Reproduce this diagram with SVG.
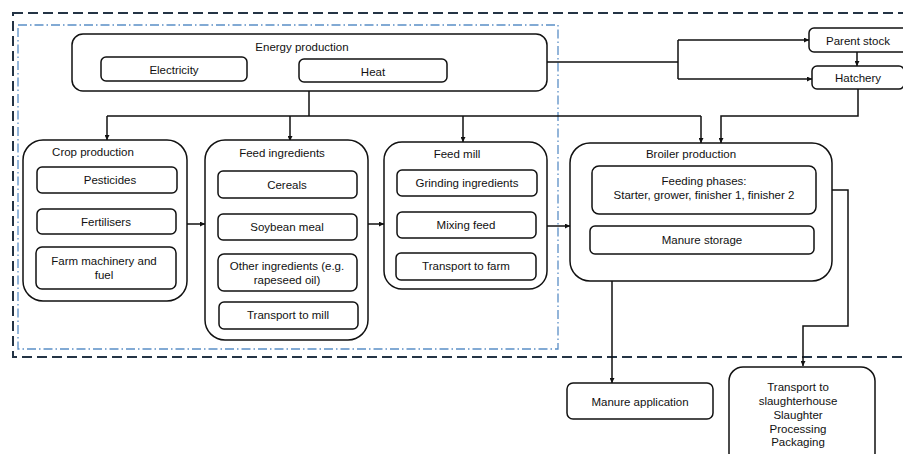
<svg xmlns="http://www.w3.org/2000/svg" width="903" height="454" viewBox="0 0 903 454">
<defs>
<marker id="ah" viewBox="0 0 10 10" refX="10" refY="5" markerWidth="5" markerHeight="5" orient="auto" markerUnits="userSpaceOnUse"><path d="M0,0 L10,5 L0,10 z" fill="#111"/></marker>
</defs>
<style>
.bg{fill:#fff}
.box{fill:#fff;stroke:#111;stroke-width:1.5}
.t{font-family:"Liberation Sans",Arial,sans-serif;font-size:11.5px;fill:#111;text-anchor:middle}
.c{fill:none;stroke:#111;stroke-width:1.5}
.ca{fill:none;stroke:#111;stroke-width:1.5;marker-end:url(#ah)}
</style>
<rect class="bg" x="0" y="0" width="903" height="454"/>
<rect x="13" y="13" width="910" height="344" fill="none" stroke="#243445" stroke-width="2" stroke-dasharray="10,5"/>
<rect x="18" y="25" width="540" height="324" fill="none" stroke="#5a8ec6" stroke-width="1.3" stroke-dasharray="9,3,1.5,3"/>

<g id="connectors">
<path class="c" d="M309,91 V116 M107,116 H701"/>
<path class="ca" d="M107,116 V140"/>
<path class="ca" d="M290,116 V141"/>
<path class="ca" d="M463,116 V142"/>
<path class="ca" d="M701,116 V143"/>
<path class="c" d="M547,62 H678 M678,40 V79"/>
<path class="ca" d="M678,40 H809"/>
<path class="ca" d="M678,79 H812"/>
<path class="ca" d="M857,52 V66"/>
<path class="ca" d="M858,89 V116 H721 V143"/>
<path class="ca" d="M187,224 H205"/>
<path class="ca" d="M368,224 H384"/>
<path class="ca" d="M547,226 H570"/>
<path class="ca" d="M816,190 H848 V326 H803 V366"/>
<path class="ca" d="M612,254 V383"/>
</g>

<g id="energy">
<rect class="box" x="72" y="34" width="475" height="57" rx="11"/>
<text class="t" x="302" y="51">Energy production</text>
</g>
<g id="electricity">
<rect class="box" x="101" y="57" width="146" height="24" rx="5"/>
<text class="t" x="174" y="74">Electricity</text>
</g>
<g id="heat">
<rect class="box" x="299" y="59" width="148" height="23" rx="5"/>
<text class="t" x="373" y="76">Heat</text>
</g>

<g id="parent-stock">
<rect class="box" x="809" y="28" width="100" height="24" rx="5"/>
<text class="t" x="858" y="45">Parent stock</text>
</g>
<g id="hatchery">
<rect class="box" x="812" y="66" width="92" height="23" rx="5"/>
<text class="t" x="858" y="82">Hatchery</text>
</g>

<g id="crop">
<rect class="box" x="23" y="140" width="164" height="161" rx="20"/>
<text class="t" x="93" y="156">Crop production</text>
</g>
<g id="pesticides">
<rect class="box" x="37" y="167" width="140" height="26" rx="5"/>
<text class="t" x="110" y="184">Pesticides</text>
</g>
<g id="fertilisers">
<rect class="box" x="37" y="209" width="139" height="25" rx="5"/>
<text class="t" x="106" y="226">Fertilisers</text>
</g>
<g id="farm-machinery">
<rect class="box" x="36" y="247" width="140" height="42" rx="6"/>
<text class="t" x="104" y="265">Farm machinery and</text>
<text class="t" x="104" y="279">fuel</text>
</g>

<g id="feed-ingredients">
<rect class="box" x="205" y="140" width="163" height="200" rx="20"/>
<text class="t" x="282" y="157">Feed ingredients</text>
</g>
<g id="cereals">
<rect class="box" x="218" y="171" width="139" height="27" rx="5"/>
<text class="t" x="287" y="189">Cereals</text>
</g>
<g id="soybean">
<rect class="box" x="218" y="214" width="139" height="26" rx="5"/>
<text class="t" x="287" y="231">Soybean meal</text>
</g>
<g id="other">
<rect class="box" x="218" y="254" width="139" height="37" rx="6"/>
<text class="t" x="287" y="270">Other ingredients (e.g.</text>
<text class="t" x="287" y="284">rapeseed oil)</text>
</g>
<g id="transport-mill">
<rect class="box" x="219" y="302" width="139" height="27" rx="5"/>
<text class="t" x="288" y="319">Transport to mill</text>
</g>

<g id="feed-mill">
<rect class="box" x="384" y="142" width="163" height="147" rx="18"/>
<text class="t" x="457" y="158">Feed mill</text>
</g>
<g id="grinding">
<rect class="box" x="397" y="170" width="140" height="26" rx="5"/>
<text class="t" x="467" y="187">Grinding ingredients</text>
</g>
<g id="mixing">
<rect class="box" x="397" y="212" width="139" height="26" rx="5"/>
<text class="t" x="466" y="229">Mixing feed</text>
</g>
<g id="transport-farm">
<rect class="box" x="396" y="253" width="140" height="27" rx="5"/>
<text class="t" x="466" y="270">Transport to farm</text>
</g>

<g id="broiler">
<rect class="box" x="570" y="143" width="262" height="138" rx="20"/>
<text class="t" x="691" y="158">Broiler production</text>
</g>
<g id="feeding">
<rect class="box" x="592" y="166" width="224" height="48" rx="7"/>
<text class="t" x="704" y="185">Feeding phases:</text>
<text class="t" x="704" y="199">Starter, grower, finisher 1, finisher 2</text>
</g>
<g id="manure-storage">
<rect class="box" x="590" y="226" width="224" height="28" rx="5"/>
<text class="t" x="702" y="244">Manure storage</text>
</g>

<g id="manure-application">
<rect class="box" x="567" y="383" width="146" height="36" rx="6"/>
<text class="t" x="640" y="406">Manure application</text>
</g>
<g id="slaughter">
<rect class="box" x="729" y="367" width="146" height="100" rx="14"/>
<text class="t" x="798" y="391">Transport to</text>
<text class="t" x="798" y="405">slaughterhouse</text>
<text class="t" x="798" y="419">Slaughter</text>
<text class="t" x="798" y="433">Processing</text>
<text class="t" x="798" y="446">Packaging</text>
</g>
</svg>
